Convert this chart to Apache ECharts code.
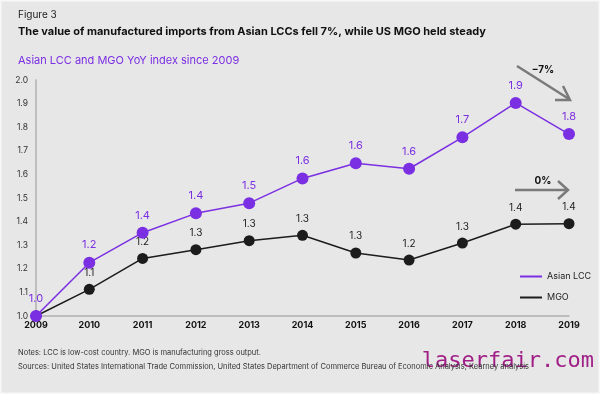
<!DOCTYPE html>
<html><head><meta charset="utf-8">
<script src="https://cdn.jsdelivr.net/npm/echarts@6/dist/echarts.min.js"></script>
<style>html,body{margin:0;padding:0;background:#e7e7e7}#c{width:600px;height:394px}</style>
</head><body><div id="c"></div>
<script>
const years = ['2009','2010','2011','2012','2013','2014','2015','2016','2017','2018','2019'];
const asianLCC = [1.0,1.226,1.353,1.435,1.478,1.583,1.647,1.624,1.757,1.903,1.771];
const asianLCCLabels = ['1.0','1.2','1.4','1.4','1.5','1.6','1.6','1.6','1.7','1.9','1.8'];
const mgo = [1.0,1.113,1.244,1.281,1.319,1.342,1.267,1.237,1.309,1.389,1.391];
const mgoLabels = ['','1.1','1.2','1.3','1.3','1.3','1.3','1.2','1.3','1.4','1.4'];
const yTicks = ['1.0','1.1','1.2','1.3','1.4','1.5','1.6','1.7','1.8','1.9','2.0'];

const PURPLE = '#7b2fe2';
const FONT = 'Inter, "Noto Sans", sans-serif';
const chart = echarts.init(document.getElementById('c'));
chart.setOption({
  backgroundColor: '#e7e7e7',
  animation: false,
  textStyle: {fontFamily: FONT},
  title: [
    {text: 'Figure 3', left: 13, top: 5, textStyle: {fontSize: 10, fontWeight: 'normal', color: '#222', fontFamily: FONT}},
    {text: 'The value of manufactured imports from Asian LCCs fell 7%, while US MGO held steady', left: 13, top: 21, textStyle: {fontSize: 11, fontWeight: 'bold', color: '#111', fontFamily: FONT}},
    {text: 'Asian LCC and MGO YoY index since 2009', left: 13, top: 50, textStyle: {fontSize: 11, fontWeight: 'normal', color: PURPLE, fontFamily: FONT}},
    {text: 'Notes: LCC is low-cost country. MGO is manufacturing gross output.', left: 13, top: 344, textStyle: {fontSize: 7.5, fontWeight: 'normal', color: '#333', fontFamily: FONT}},
    {text: 'Sources: United States International Trade Commission, United States Department of Commerce Bureau of Economic Analysis; Kearney analysis', left: 13, top: 358, textStyle: {fontSize: 7.5, fontWeight: 'normal', color: '#333', fontFamily: FONT}}
  ],
  grid: {left: 36, right: 31, top: 80, bottom: 78, containLabel: false},
  legend: {
    orient: 'vertical', left: 515, top: 267, itemGap: 12,
    itemWidth: 22, itemHeight: 2, icon: 'rect',
    textStyle: {fontSize: 9, color: '#222', fontFamily: FONT},
    data: ['Asian LCC', 'MGO']
  },
  xAxis: {
    type: 'category', data: years, boundaryGap: false,
    axisLine: {lineStyle: {color: '#b0b0b0', width: 1.5}},
    axisTick: {show: false},
    axisLabel: {fontSize: 9, fontWeight: 'bold', color: '#111', margin: 5, fontFamily: FONT}
  },
  yAxis: {
    type: 'value', min: 1, max: 2, interval: 0.1,
    axisLine: {show: true, lineStyle: {color: '#b0b0b0', width: 1.5}},
    axisTick: {show: false},
    splitLine: {show: false},
    axisLabel: {fontSize: 8.5, color: '#333', margin: 8, fontFamily: FONT,
      formatter: (v) => yTicks[Math.round((v - 1) * 10)] }
  },
  series: [
    {
      name: 'MGO', type: 'line', data: mgo, z: 2,
      symbol: 'circle', symbolSize: 11,
      lineStyle: {color: '#1c1c1c', width: 1.5},
      itemStyle: {color: '#1c1c1c'},
      label: {show: true, position: 'top', distance: 6, fontSize: 10, color: '#222', fontFamily: FONT,
        formatter: (p) => mgoLabels[p.dataIndex]}
    },
    {
      name: 'Asian LCC', type: 'line', data: asianLCC, z: 3,
      symbol: 'circle', symbolSize: 12,
      lineStyle: {color: PURPLE, width: 1.5},
      itemStyle: {color: PURPLE},
      label: {show: true, position: 'top', distance: 6, fontSize: 11, color: PURPLE, fontFamily: FONT,
        formatter: (p) => asianLCCLabels[p.dataIndex]}
    }
  ],
  graphic: [
    {type: 'rect', shape: {x: 0, y: 0, width: 600, height: 394}, style: {fill: null, stroke: '#f8f8f8', lineWidth: 3}, silent: true},
    {type: 'line', shape: {x1: 517, y1: 66, x2: 569, y2: 99}, style: {stroke: '#7a7a7a', lineWidth: 2.5}},
    {type: 'polyline', shape: {points: [[555, 100], [570, 100], [563, 86]]}, style: {stroke: '#7a7a7a', lineWidth: 2.5, fill: null}},
    {type: 'text', style: {x: 543, y: 70, text: '\u22127%', font: 'bold 10px ' + FONT, fill: '#111', textAlign: 'center', textVerticalAlign: 'middle'}},
    {type: 'line', shape: {x1: 515, y1: 190, x2: 568, y2: 190}, style: {stroke: '#7a7a7a', lineWidth: 2.5}},
    {type: 'polyline', shape: {points: [[558, 181], [568, 190], [558, 199]]}, style: {stroke: '#7a7a7a', lineWidth: 2.5, fill: null}},
    {type: 'text', style: {x: 543, y: 181, text: '0%', font: 'bold 10px ' + FONT, fill: '#111', textAlign: 'center', textVerticalAlign: 'middle'}},
    {type: 'text', style: {x: 594, y: 361, text: 'laserfair.com', font: '22px "DejaVu Sans Mono", monospace', fill: '#a01f86', textAlign: 'right', textVerticalAlign: 'middle'}}
  ]
});
</script></body></html>
